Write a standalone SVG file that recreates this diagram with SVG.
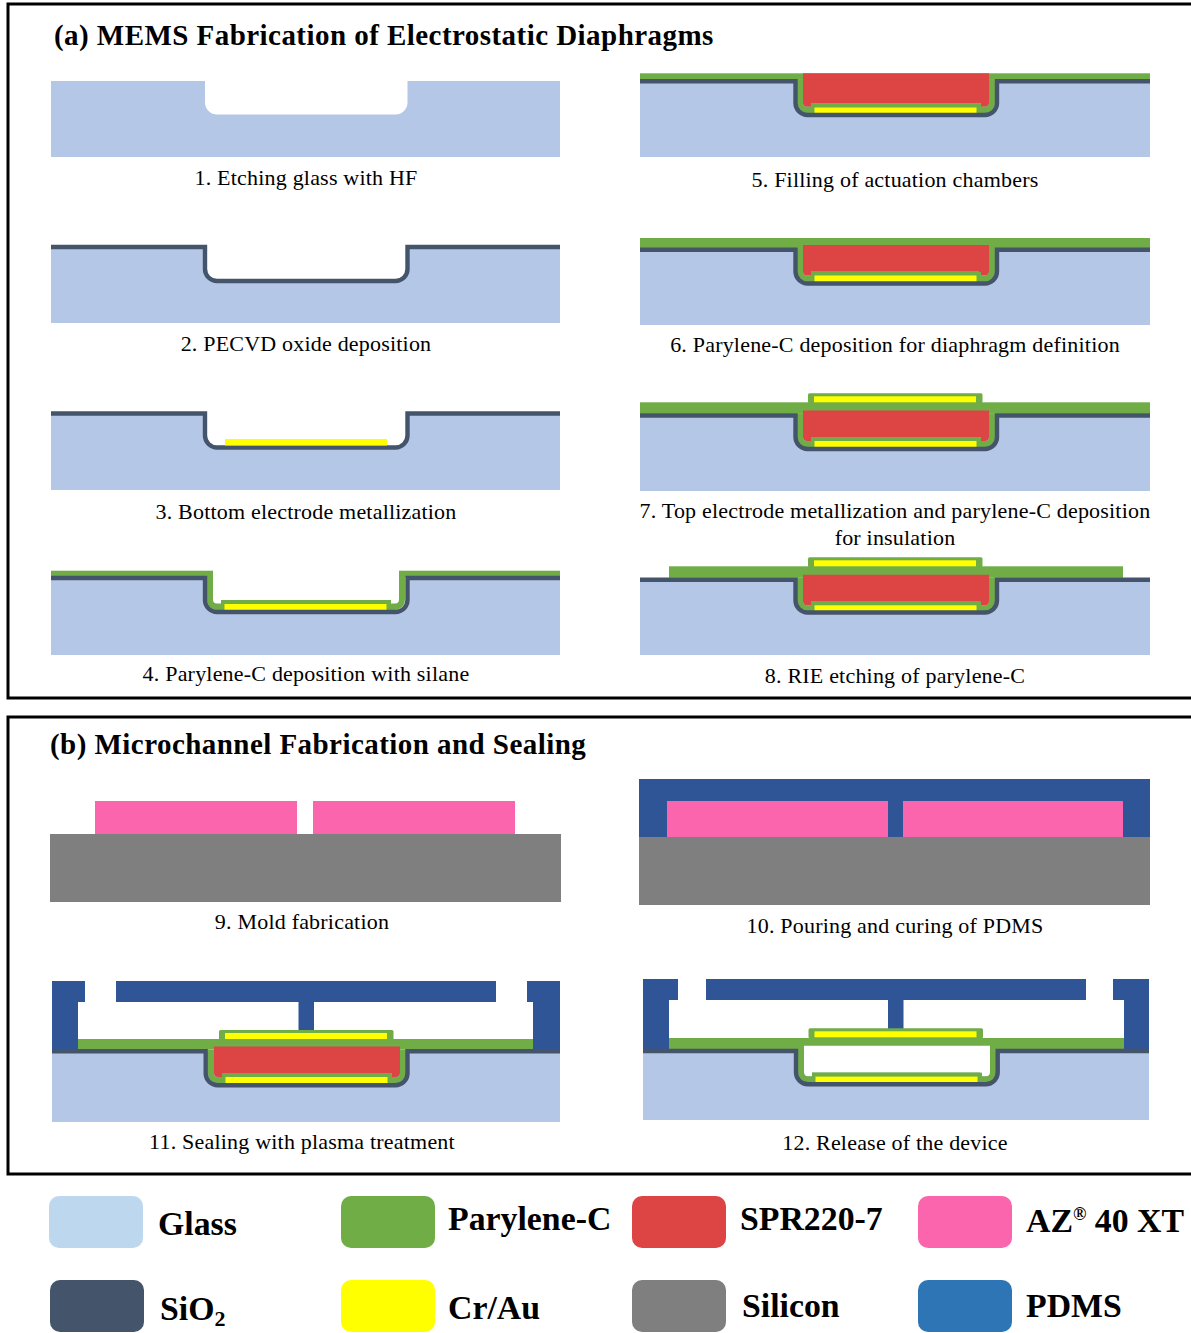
<svg xmlns="http://www.w3.org/2000/svg" width="1191" height="1333" viewBox="0 0 1191 1333">
<style>
text{font-family:"Liberation Serif","Times New Roman",serif;fill:#000}
.cap{font-size:22px;text-anchor:middle;letter-spacing:.2px}
.title{font-size:29px;font-weight:bold;letter-spacing:.45px}
.leg{font-size:33.800px;font-weight:bold}
.frame{fill:none;stroke:#000;stroke-width:3}
.glass{fill:#b4c7e7}.ox{fill:none;stroke:#44546a;stroke-width:4.400}
.g{fill:#70ad47}.y{fill:#ff0}.r{fill:#dd4444}.w{fill:#fff}.p{fill:#fa65ae}.s{fill:#7f7f7f}.d{fill:#2f5597}
</style>
<defs>
<path id="notch" d="M8-5H194V21.500Q194 25.500 190 25.500H186V22H16V25.500H12Q8 25.500 8 21.500Z"/>
<g id="trench">
<path class="g" d="M2-2V22A10 10 0 0 0 12 32H190A10 10 0 0 0 200 22V-2H194V21.500Q194 25.500 190 25.500H186V22H16V25.500H12Q8 25.500 8 21.500V-2Z"/>
<rect class="y" x="19.500" y="25.500" width="162" height="6.500"/>
</g>
<g id="topcap">
<rect class="g" x="0" y="0" width="174.500" height="10" rx="1.500"/>
<rect class="y" x="6" y="3" width="162" height="6"/>
</g>
<g id="pdms">
<path class="d" d="M0 0H33V21H26V72H0Z"/>
<rect class="d" x="64" width="380" height="21"/>
<rect class="d" x="246.500" y="21" width="15.500" height="29"/>
<path class="d" d="M508 0H475V21H481V72H508Z"/>
</g>
</defs>

<g id="frames">
<rect class="frame" x="8" y="4" width="1190" height="694"/>
<rect class="frame" x="8" y="717" width="1190" height="457"/>
</g>
<text class="title" x="54" y="45">(a) MEMS Fabrication of Electrostatic Diaphragms</text>
<text class="title" x="50" y="754">(b) Microchannel Fabrication and Sealing</text>

<g id="step1">
<path class="glass" d="M51 81H205V102.500A12 12 0 0 0 217 114.500H395.500A12 12 0 0 0 407.500 102.500V81H560V157H51Z"/>
<text class="cap" x="306" y="185">1. Etching glass with HF</text>
</g>
<g id="step2">
<path class="glass" d="M51 247H205V269A12 12 0 0 0 217 281H395.500A12 12 0 0 0 407.500 269V247H560V323H51Z"/>
<path class="ox" d="M51 247H205V269A12 12 0 0 0 217 281H395.500A12 12 0 0 0 407.500 269V247H560"/>
<text class="cap" x="306" y="351">2. PECVD oxide deposition</text>
</g>
<g id="step3">
<path class="glass" d="M51 413.500H205V435.500A12 12 0 0 0 217 447.500H395.500A12 12 0 0 0 407.500 435.500V413.500H560V490H51Z"/>
<path class="ox" d="M51 413.500H205V435.500A12 12 0 0 0 217 447.500H395.500A12 12 0 0 0 407.500 435.500V413.500H560"/>
<rect class="y" x="225" y="439" width="162" height="6.500"/>
<text class="cap" x="306" y="519">3. Bottom electrode metallization</text>
</g>
<g id="step4">
<path class="glass" d="M51 578H205V600A12 12 0 0 0 217 612H395.500A12 12 0 0 0 407.500 600V578H560V655H51Z"/>
<rect class="g" x="51" y="570.700" width="162" height="6"/>
<rect class="g" x="399" y="570.700" width="161" height="6"/>
<use href="#trench" x="205" y="578"/>
<rect class="g" x="221" y="600" width="168" height="4"/>
<path class="ox" d="M51 578H205V600A12 12 0 0 0 217 612H395.500A12 12 0 0 0 407.500 600V578H560"/>
<text class="cap" x="306" y="681">4. Parylene-C deposition with silane</text>
</g>

<g id="step5">
<rect class="glass" x="640" y="81" width="510" height="76"/>
<rect class="g" x="640" y="73.300" width="510" height="6.500"/>
<use class="r" href="#notch" x="795" y="81.200"/>
<rect class="r" x="803" y="73.300" width="186" height="6"/>
<use href="#trench" x="795" y="81.200"/>
<rect class="g" x="811" y="103.500" width="168" height="4"/>
<path class="ox" d="M640 81.200H795.500V103A12 12 0 0 0 807.500 115H985A12 12 0 0 0 997 103V81.200H1150"/>
<text class="cap" x="895" y="187">5. Filling of actuation chambers</text>
</g>
<g id="step6">
<rect class="glass" x="640" y="249" width="510" height="76"/>
<rect class="g" x="640" y="238" width="510" height="10"/>
<use class="r" href="#notch" x="795" y="250"/>
<use href="#trench" x="795" y="250"/>
<rect class="g" x="811" y="271" width="168" height="4"/>
<path class="ox" d="M640 249.700H795.500V271.500A12 12 0 0 0 807.500 283.500H985A12 12 0 0 0 997 271.500V249.700H1150"/>
<text class="cap" x="895" y="352">6. Parylene-C deposition for diaphragm definition</text>
</g>
<g id="step7">
<rect class="glass" x="640" y="415" width="510" height="76"/>
<rect class="g" x="640" y="402.300" width="510" height="11.500"/>
<use class="r" href="#notch" x="795" y="415.500"/>
<use href="#trench" x="795" y="415.500"/>
<rect class="g" x="811" y="437" width="168" height="4"/>
<use href="#topcap" x="808" y="393.300"/>
<path class="ox" d="M640 415.500H795.500V437A12 12 0 0 0 807.500 449H985A12 12 0 0 0 997 437V415.500H1150"/>
<text class="cap" x="895" y="518">7. Top electrode metallization and parylene-C deposition</text>
<text class="cap" x="895" y="545">for insulation</text>
</g>
<g id="step8">
<rect class="glass" x="640" y="579" width="510" height="76"/>
<rect class="g" x="669" y="566.300" width="454" height="11.500"/>
<use class="r" href="#notch" x="795" y="579.800"/>
<use href="#trench" x="795" y="579.800"/>
<rect class="g" x="811" y="601" width="168" height="4"/>
<use href="#topcap" x="808" y="557.300"/>
<path class="ox" d="M640 579.800H795.500V600.500A12 12 0 0 0 807.500 612.500H985A12 12 0 0 0 997 600.500V579.800H1150"/>
<text class="cap" x="895" y="683">8. RIE etching of parylene-C</text>
</g>

<g id="step9">
<rect class="s" x="50" y="834" width="511" height="68"/>
<rect class="p" x="95" y="801" width="202" height="33"/>
<rect class="p" x="313" y="801" width="202" height="33"/>
<text class="cap" x="302" y="929">9. Mold fabrication</text>
</g>
<g id="step10">
<rect class="d" x="639" y="779" width="511" height="58"/>
<rect class="s" x="639" y="837" width="511" height="68"/>
<rect class="p" x="667" y="801" width="221" height="36"/>
<rect class="p" x="903" y="801" width="220" height="36"/>
<text class="cap" x="895" y="933">10. Pouring and curing of PDMS</text>
</g>
<g id="step11">
<rect class="glass" x="52" y="1051" width="508" height="71"/>
<use href="#pdms" x="52" y="981"/>
<rect class="g" x="78" y="1039" width="455" height="10.500"/>
<use class="r" href="#notch" x="206" y="1051.500"/>
<use href="#trench" x="206" y="1051.500"/>
<rect class="g" x="222" y="1073" width="168" height="4"/>
<use href="#topcap" x="219" y="1030"/>
<path class="ox" d="M52 1051.300H205.700V1073.300A12 12 0 0 0 217.700 1085.300H395.500A12 12 0 0 0 407.500 1073.300V1051.300H560"/>
<text class="cap" x="302" y="1149">11. Sealing with plasma treatment</text>
</g>
<g id="step12">
<rect class="glass" x="643" y="1051" width="506" height="69"/>
<path class="d" d="M643 979H678V1000H669V1051H643Z"/>
<rect class="d" x="706" y="979" width="380" height="21"/>
<rect class="d" x="888" y="1000" width="15.500" height="29"/>
<path class="d" d="M1149 979H1113V1000H1124V1051H1149Z"/>
<rect class="g" x="669" y="1038" width="455" height="11"/>
<use class="w" href="#notch" x="796" y="1050.700"/>
<use href="#trench" x="796" y="1050.700"/>
<rect class="g" x="812" y="1072.500" width="168" height="4"/>
<use href="#topcap" x="808.500" y="1028.300"/>
<path class="ox" d="M643 1051H796V1072A12 12 0 0 0 808 1084.300H985.700A12 12 0 0 0 997.700 1072V1051H1149"/>
<text class="cap" x="895" y="1150">12. Release of the device</text>
</g>

<g id="legend">
<g id="leg-glass"><rect x="49" y="1196" width="94" height="52" rx="10" fill="#bdd7ee"/><text class="leg" x="158" y="1235">Glass</text></g>
<g id="leg-parylene"><rect x="341" y="1196" width="94" height="52" rx="10" fill="#70ad47"/><text class="leg" x="448" y="1230">Parylene-C</text></g>
<g id="leg-spr"><rect x="632" y="1196" width="94" height="52" rx="10" fill="#dd4444"/><text class="leg" x="740" y="1230">SPR220-7</text></g>
<g id="leg-az"><rect x="918" y="1196" width="94" height="52" rx="10" fill="#fa65ae"/><text class="leg" x="1026" y="1232">AZ<tspan font-size="18" dy="-12">®</tspan><tspan dy="12"> 40 XT</tspan></text></g>
<g id="leg-sio2"><rect x="50" y="1280" width="94" height="52" rx="10" fill="#44546a"/><text class="leg" x="160" y="1320">SiO<tspan font-size="22" dy="6">2</tspan></text></g>
<g id="leg-crau"><rect x="341" y="1280" width="94" height="52" rx="10" fill="#ff0"/><text class="leg" x="448" y="1319">Cr/Au</text></g>
<g id="leg-si"><rect x="632" y="1280" width="94" height="52" rx="10" fill="#7f7f7f"/><text class="leg" x="742" y="1317">Silicon</text></g>
<g id="leg-pdms"><rect x="918" y="1280" width="94" height="52" rx="10" fill="#2e75b6"/><text class="leg" x="1026" y="1317">PDMS</text></g>
</g>
</svg>
